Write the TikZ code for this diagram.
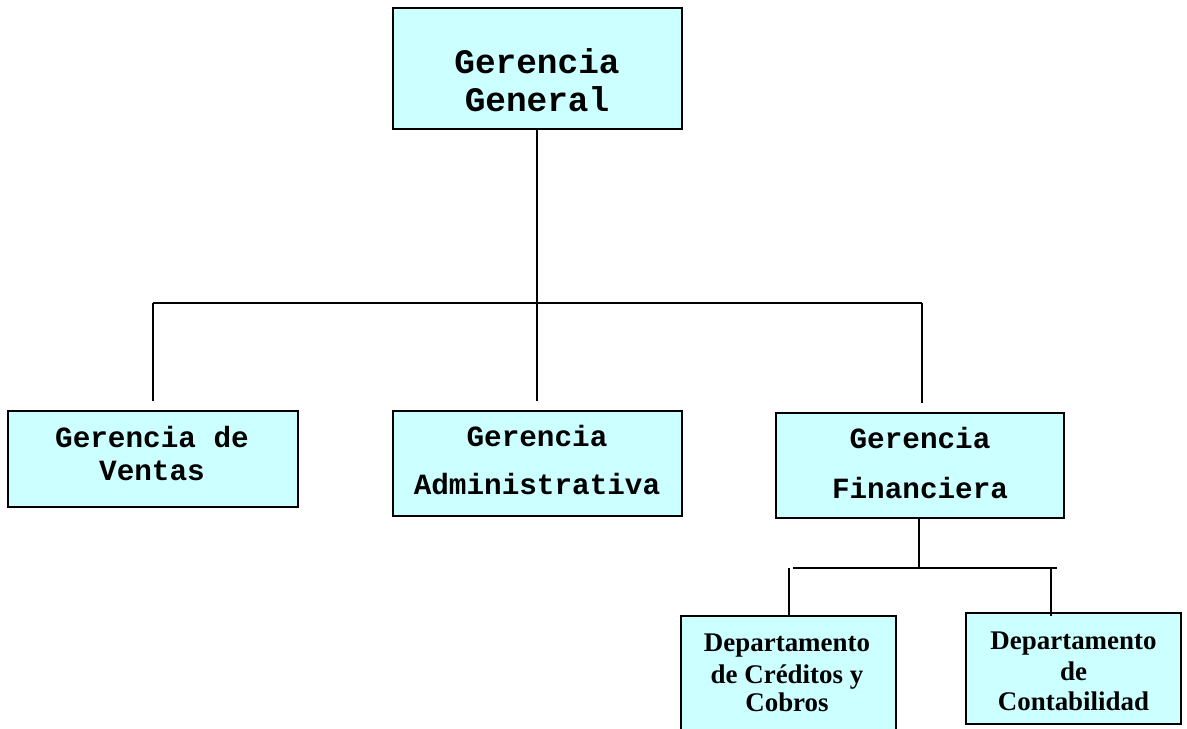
\documentclass[tikz,border=0pt]{standalone}
\usepackage{fontspec}
\newfontfamily\courfont{Liberation Mono}
\newfontfamily\timesfont{Liberation Serif}
\definecolor{boxfill}{RGB}{204,255,255}
\begin{document}
\begin{tikzpicture}[x=0.75pt,y=-0.75pt,
  box/.style={draw=black, fill=boxfill, line width=1.4pt, inner sep=0pt},
  conn/.style={draw=black, line width=1.3pt},
  bigtxt/.style={font=\courfont\bfseries\fontsize{25.8}{25.8}\selectfont, anchor=base, inner sep=0pt},
  midtxt/.style={font=\courfont\bfseries\fontsize{22}{22}\selectfont, anchor=base, inner sep=0pt},
  deptxt/.style={font=\timesfont\bfseries\fontsize{20.2}{20.2}\selectfont, anchor=base, inner sep=0pt}]
\clip (0,0) rectangle (1187,728);
\fill[white] (0,0) rectangle (1187,728);

% boxes
\node[box, minimum width=216.75pt, minimum height=90.75pt] (gg) at (537.5,68.5) {};
\node[box, minimum width=217.5pt, minimum height=72pt] (ven) at (153,459) {};
\node[box, minimum width=216.75pt, minimum height=78.75pt] (adm) at (537.5,463.5) {};
\node[box, minimum width=216pt, minimum height=78.75pt] (fin) at (920,465.5) {};
\node[box, minimum width=161.25pt, minimum height=93pt] (cre) at (788.5,678) {};
\node[box, minimum width=161.25pt, minimum height=83.25pt] (con) at (1073.5,668.5) {};

% texts
\node[bigtxt] (gg1) at (537,73) {Gerencia};
\node[bigtxt] (gg2) at (537,111) {General};
\node[midtxt] (ven1) at (152,447) {Gerencia de};
\node[midtxt] (ven2) at (152,480) {Ventas};
\node[midtxt] (adm1) at (537,446) {Gerencia};
\node[midtxt] (adm2) at (537,494) {Administrativa};
\node[midtxt] (fin1) at (920,448) {Gerencia};
\node[midtxt] (fin2) at (920,498) {Financiera};
\node[deptxt] (cre1) at (787,651) {Departamento};
\node[deptxt] (cre2) at (787,683) {de Créditos y};
\node[deptxt] (cre3) at (787,711) {Cobros};
\node[deptxt] (con1) at (1073.5,649) {Departamento};
\node[deptxt] (con2) at (1073.5,680) {de};
\node[deptxt] (con3) at (1073.5,710) {Contabilidad};

% connector points
\coordinate (bus) at (537,303);
\coordinate (busL) at (153,303);
\coordinate (busR) at (922,303);
\coordinate (venTop) at (153,401);
\coordinate (admTop) at (537,401);
\coordinate (finTop) at (922,403);
\coordinate (sub) at (919,568);
\coordinate (subL) at (793,568);
\coordinate (subR) at (1057,568);
\coordinate (creBus) at (789,568);
\coordinate (creTop) at (789,616);
\coordinate (conBus) at (1051,568);
\coordinate (conTop) at (1051,616);

% connectors
\draw[conn] (gg.south -| bus) -- (bus);
\draw[conn] (busL) -- (busR);
\draw[conn] (busL) -- (venTop);
\draw[conn] (bus) -- (admTop);
\draw[conn] (busR) -- (finTop);
\draw[conn] (fin.south -| sub) -- (sub);
\draw[conn] (subL) -- (subR);
\draw[conn] (creBus) -- (creTop);
\draw[conn] (conBus) -- (conTop);
\end{tikzpicture}
\end{document}
